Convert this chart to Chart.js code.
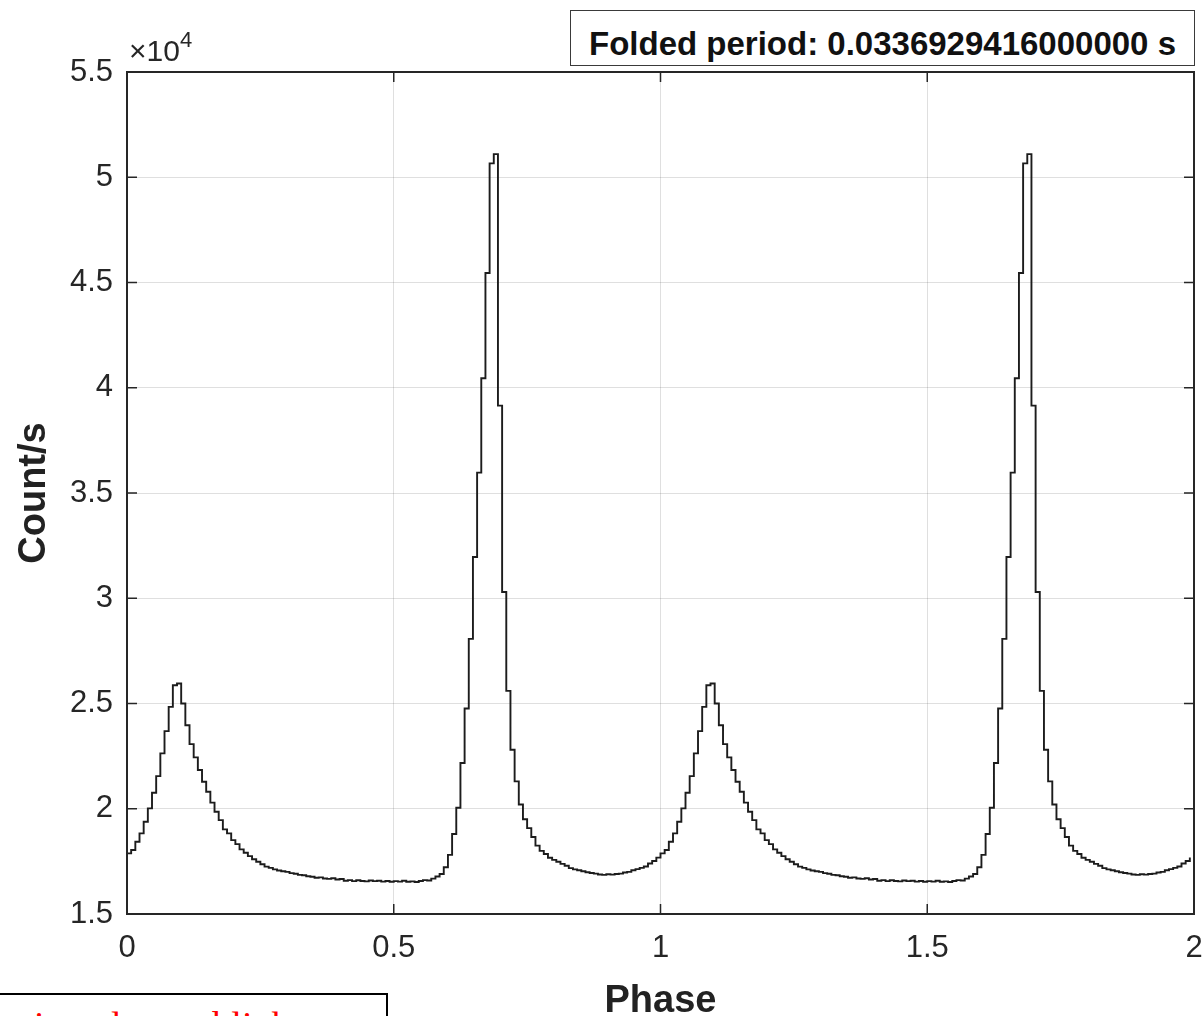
<!DOCTYPE html>
<html>
<head>
<meta charset="utf-8">
<script src="https://cdn.jsdelivr.net/npm/chart.js@4.4.1/dist/chart.umd.min.js"></script>
<style>
html,body{margin:0;padding:0;background:#fff;overflow:hidden;}
#wrap{position:relative;width:1203px;height:1016px;background:#fff;}
#c{position:absolute;left:0;top:0;}
#titlebox{position:absolute;left:570px;top:10px;width:625px;height:56px;border:1.5px solid #3a3a3a;box-sizing:border-box;background:#fff;
  font:bold 33px "Liberation Sans",Arial,sans-serif;color:#111;display:flex;align-items:center;justify-content:center;white-space:nowrap;padding-top:12px;}
#exp{position:absolute;left:129px;top:30px;font:30px "Liberation Sans",Arial,sans-serif;color:#262626;white-space:nowrap;}
#exp sup{font-size:22px;position:relative;top:-3px;}
#redbox{position:absolute;left:-2px;top:993px;width:390px;height:40px;border:2px solid #000;box-sizing:border-box;overflow:hidden;background:#fff;}
#redbox span{position:absolute;left:34px;top:8px;font:38px "Liberation Serif","Times New Roman",serif;color:#ff0000;white-space:nowrap;}
</style>
</head>
<body>
<div id="wrap">
  <canvas id="c" width="1203" height="1016"></canvas>
  <div id="titlebox">Folded period: 0.0336929416000000 s</div>
  <div id="exp">&times;10<sup>4</sup></div>
  <div id="redbox"><span>in pulsar at blight curve</span></div>
</div>
<script>
// ---------- data ----------
const binsPerCycle = 128;
const cycles = 2;
// folded count rate per phase bin (counts/s), one cycle (phase 0 .. 1)
const profileCounts = [
  17880,18040,18430,18830,19380,20020,20760,21550,22630,23690,
  24840,25870,25950,25000,23970,23070,22440,21840,21280,20810,
  20290,19860,19460,19020,18830,18510,18320,18070,17910,17750,
  17600,17480,17360,17250,17190,17120,17070,17030,17000,16940,
  16910,16860,16840,16790,16770,16720,16740,16690,16670,16700,
  16640,16660,16580,16610,16560,16600,16570,16550,16590,16560,
  16580,16540,16570,16530,16560,16540,16580,16530,16550,16520,
  16570,16610,16590,16680,16780,16900,17220,17810,18800,20050,
  22170,24760,28070,31960,35970,40450,45450,50660,51100,39150,
  30300,25600,22800,21300,20200,19500,19080,18660,18250,18000,
  17850,17670,17570,17480,17380,17290,17180,17120,17080,17030,
  16980,16950,16920,16880,16860,16890,16870,16900,16920,16970,
  17000,17080,17130,17190,17260,17400,17520,17680
];
const xTickValues = [0, 0.5, 1, 1.5, 2];
const yTickValues = [15000, 20000, 25000, 30000, 35000, 40000, 45000, 50000, 55000];
const xLabel = 'Phase';
const yLabel = 'Count/s';

// stairs points: x = bin start phase
const points = [];
for (let c = 0; c < cycles; c++) {
  for (let i = 0; i < binsPerCycle; i++) {
    points.push({x: c + i / binsPerCycle, y: profileCounts[i]});
  }
}

const axisColor = '#262626';
const gridColor = 'rgba(38,38,38,0.15)';

const boxPlugin = {
  id: 'matlabBox',
  afterDatasetsDraw(chart) {
    const {ctx, chartArea: a, scales} = chart;
    ctx.save();
    ctx.strokeStyle = axisColor;
    ctx.lineWidth = 1.5;
    const tl = 10;
    ctx.beginPath();
    xTickValues.forEach(v => {
      const px = scales.x.getPixelForValue(v);
      ctx.moveTo(px, a.bottom); ctx.lineTo(px, a.bottom - tl);
      ctx.moveTo(px, a.top); ctx.lineTo(px, a.top + tl);
    });
    yTickValues.forEach(v => {
      const py = scales.y.getPixelForValue(v);
      ctx.moveTo(a.left, py); ctx.lineTo(a.left + tl, py);
      ctx.moveTo(a.right, py); ctx.lineTo(a.right - tl, py);
    });
    ctx.stroke();
    ctx.lineWidth = 2;
    ctx.strokeRect(a.left, a.top, a.right - a.left, a.bottom - a.top);
    ctx.restore();
  }
};

new Chart(document.getElementById('c'), {
  type: 'line',
  data: {
    datasets: [{
      data: points,
      stepped: 'before',
      borderColor: '#1c1c1c',
      borderWidth: 1.9,
      pointRadius: 0,
      fill: false,
      tension: 0
    }]
  },
  options: {
    responsive: false,
    devicePixelRatio: 1,
    animation: false,
    events: [],
    layout: {padding: {top: 72, right: 9, left: 0, bottom: 0}},
    plugins: {legend: {display: false}, tooltip: {enabled: false}, title: {display: false}},
    scales: {
      x: {
        type: 'linear', min: 0, max: 2,
        afterBuildTicks: s => { s.ticks = xTickValues.map(v => ({value: v})); },
        afterFit: s => { s.height = 102; s.paddingLeft = 0; s.paddingRight = 0; },
        ticks: {
          padding: 16, color: axisColor, maxRotation: 0, autoSkip: false,
          font: {family: '"Liberation Sans", Arial, sans-serif', size: 31},
          callback: v => String(v)
        },
        grid: {color: gridColor, lineWidth: 1, drawTicks: false},
        border: {display: false},
        title: {
          display: true, text: xLabel, color: '#222',
          font: {family: '"Liberation Sans", Arial, sans-serif', size: 38, weight: 'bold', lineHeight: 0.74},
          padding: {top: 0, bottom: 0}
        }
      },
      y: {
        type: 'linear', min: 15000, max: 55000,
        afterBuildTicks: s => { s.ticks = yTickValues.map(v => ({value: v})); },
        afterFit: s => { s.width = 127; s.paddingTop = 0; s.paddingBottom = 0; },
        ticks: {
          padding: 14, color: axisColor, autoSkip: false,
          font: {family: '"Liberation Sans", Arial, sans-serif', size: 31},
          callback: v => String(Math.round(v / 1000) / 10)
        },
        grid: {color: gridColor, lineWidth: 1, drawTicks: false},
        border: {display: false},
        title: {
          display: true, text: yLabel, color: '#222',
          font: {family: '"Liberation Sans", Arial, sans-serif', size: 38, weight: 'bold', lineHeight: 1},
          padding: {top: 16, bottom: 0}
        }
      }
    }
  },
  plugins: [boxPlugin]
});
</script>
</body>
</html>
